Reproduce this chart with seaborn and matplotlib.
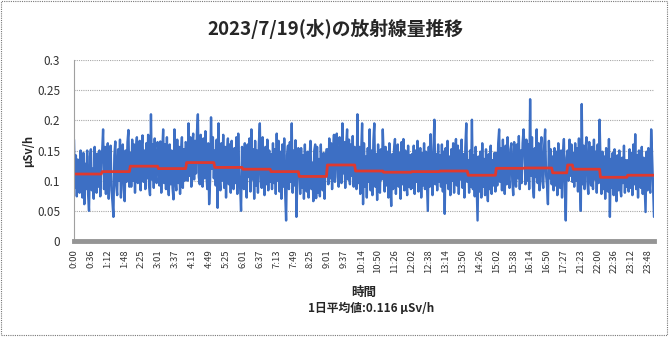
import numpy as np
import pandas as pd
import matplotlib
matplotlib.use("Agg")
import matplotlib.pyplot as plt
from matplotlib.patches import Rectangle
import seaborn as sns

# ---- data (dose in 0.001 uSv/h, ~2-minute samples, blocks by hour) ----
hr00 = [168,88,142,74,135,96,80,150,104,72,146,61,128,86,150,78,50,140,152,84,120,70,156,92,80,145,90,150,74,128]
hr01 = [148,185,86,156,78,138,162,70,130,158,84,64,40,142,165,92,76,152,100,168,72,136,160,86,66,150,98,164,184,90]
hr02 = [146,90,168,100,160,80,150,172,96,140,166,84,155,175,98,150,86,162,104,176,92,76,210,102,160,88,170,108,96,164]
hr03 = [150,92,165,80,146,185,96,160,86,172,104,76,160,94,150,88,69,185,108,84,168,96,156,78,146,172,88,152,100,164]
hr04 = [160,100,195,108,172,90,158,178,102,166,112,180,210,106,94,176,118,90,170,104,182,112,86,162,61,100,205,120,172,104]
hr05 = [150,92,168,55,195,106,84,162,100,176,88,156,72,146,170,94,160,80,166,104,86,154,96,172,78,178,108,90,50,156]
hr06 = [146,86,162,98,72,160,106,170,82,185,102,152,70,166,92,150,80,162,195,100,88,172,106,76,156,94,168,84,150,98]
hr07 = [144,86,162,96,152,78,178,100,166,82,148,70,160,90,170,80,34,142,158,86,164,98,195,80,150,92,167,40,104,154]
hr08 = [132,78,154,88,142,70,160,92,82,148,72,138,166,86,130,66,150,160,71,156,80,136,74,160,94,84,146,70,132,152]
hr09 = [152,94,170,104,162,86,150,176,98,166,178,106,90,172,150,96,195,112,164,88,158,185,102,168,94,160,108,174,90,156]
hr10 = [142,86,210,96,156,78,148,195,61,162,90,140,72,154,98,185,84,150,76,166,195,90,144,68,160,96,80,152,102,185]
hr11 = [140,82,156,92,148,72,162,98,58,144,86,152,169,78,136,160,90,146,70,164,94,169,84,150,100,76,158,90,142,86]
hr12 = [144,88,158,78,150,98,166,82,140,154,72,146,92,162,86,148,100,50,156,90,177,106,76,152,201,94,144,84,160,98]
hr13 = [142,90,160,82,148,45,154,96,166,86,140,76,152,100,162,80,146,169,92,158,78,150,102,168,88,144,72,156,195,98]
hr14 = [134,80,150,90,201,86,142,74,156,94,34,140,82,148,72,162,90,136,76,152,96,66,144,86,158,78,134,92,146,82]
hr15 = [146,92,162,185,98,154,84,168,106,78,158,94,172,108,88,152,162,100,76,164,112,90,160,104,174,86,150,96,162,185]
hr16 = [152,94,168,100,160,86,235,108,172,90,72,154,106,185,96,162,84,148,172,100,88,158,185,110,92,61,166,104,152,94]
hr17 = [140,84,154,92,148,76,162,98,88,150,72,144,169,90,34,138]
hr18 = [150,100,168,108,160,98]
hr21 = [146,90,162,100,154,82,170,106,50,227,94,158,86,150,172,98,78,164,108,92,156,86,168,102,148,80,160,96,201]
hr22 = [132,78,148,86,140,70,154,90,82,169,40,136,88,146,76,152,92,66,142,84,150,88,74,138,96,158,80,134,90]
hr23 = [134,82,152,88,146,76,160,94,177,86,142,72,150,98,88,156,78,138,92,48,148,84,154,96,80,185,140,88,40]

hour_avg = [111,115,124,120,130,122,119,115,107,126,116,114,115,116,109,120.5,121,113,126,119,105.6,109]

tick_labels = ["0:00","0:36","1:12","1:48","2:25","3:01","3:37","4:13","4:49","5:25",
               "6:01","6:37","7:13","7:49","8:25","9:01","9:37","10:14","10:50","11:26",
               "12:02","12:38","13:14","13:50","14:26","15:02","15:38","16:14","16:50","17:27",
               "21:23","22:00","22:36","23:12","23:48"]

y_ticks = [0, 0.05, 0.1, 0.15, 0.2, 0.25, 0.3]

blocks = [hr00,hr01,hr02,hr03,hr04,hr05,hr06,hr07,hr08,hr09,hr10,hr11,hr12,hr13,
          hr14,hr15,hr16,hr17,hr18,hr21,hr22,hr23]
dose = np.concatenate([np.array(b, dtype=float) for b in blocks]) / 1000.0
hour_len = [len(b) for b in blocks]
avg_line = np.repeat(np.array(hour_avg) / 1000.0, hour_len)
n = len(dose)
df = pd.DataFrame({"i": np.arange(n), "dose": dose, "avg": avg_line})

# ---- style ----
sns.set_style("white")
plt.rcParams["font.family"] = ["Noto Sans CJK JP", "DejaVu Sans"]

BLUE = "#3d6fc4"
RED = "#e0392e"

fig = plt.figure(figsize=(6.7, 3.37), dpi=100)
ax = fig.add_axes([74/670, 1-241/337, 580/670, 181/337])

sns.lineplot(data=df, x="i", y="dose", ax=ax, color=BLUE, linewidth=1.7)
sns.lineplot(data=df, x="i", y="avg", ax=ax, color=RED, linewidth=2)

ax.set_xlim(0, n - 1)
ax.set_ylim(0, 0.3)
ax.set_yticks(y_ticks)
ax.set_yticklabels([f"{v:g}" for v in y_ticks], fontsize=8.5, color="#333333")
xt = np.arange(len(tick_labels)) * 18
ax.set_xticks(xt)
ax.set_xticklabels(tick_labels, rotation=90, fontsize=6.8, color="#333333")
ax.tick_params(axis="x", length=3, width=0.6, color="#888888", pad=3)
ax.tick_params(axis="y", length=4, width=0.6, color="#888888", pad=6)
ax.yaxis.grid(True, color="#a8a8a8", linestyle=(0, (1, 1)), linewidth=0.8)
ax.set_axisbelow(True)
ax.set_xlabel("")
ax.set_ylabel("μSv/h", fontsize=8, fontweight="bold", labelpad=1)

for s in ["top", "right"]:
    ax.spines[s].set_visible(False)
ax.spines["left"].set_color("#a0a0a0")
ax.spines["left"].set_linewidth(0.8)
ax.spines["bottom"].set_color("#959595")
ax.spines["bottom"].set_linewidth(3.5)

fig.text(335/670, 1-29/337, "2023/7/19(水)の放射線量推移", ha="center", va="center",
         fontsize=13.5, fontweight="bold")
fig.text(364/670, 1-292/337, "時間", ha="center", va="center", fontsize=9, fontweight="bold")
fig.text(371/670, 1-309/337, "1日平均値:0.116 μSv/h", ha="center", va="center",
         fontsize=8.5, fontweight="bold")

fig.add_artist(Rectangle((0.002, 0.006), 0.993, 0.99, transform=fig.transFigure,
                         fill=False, edgecolor="#777777", linestyle=(0, (1, 1)), linewidth=0.8))

fig.savefig("out.png", dpi=100)
